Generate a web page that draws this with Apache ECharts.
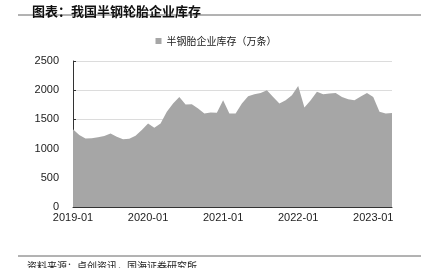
<!DOCTYPE html>
<html><head><meta charset="utf-8">
<script src="https://cdn.jsdelivr.net/npm/echarts@6/dist/echarts.min.js"></script>
<style>html,body{margin:0;padding:0;background:#fff;}#c{width:432px;height:268px;}</style>
</head><body><div id="c"></div>
<script>
const categories = [];
for (let y = 2019; y <= 2023; y++) {
  for (let m = 1; m <= 12; m++) {
    if (y === 2023 && m > 4) break;
    categories.push(y + '-' + String(m).padStart(2, '0'));
  }
}
const seriesName = '半钢胎企业库存（万条）';
const inventory = [
  1330, 1232, 1175, 1178, 1195, 1215, 1258, 1205, 1160, 1170, 1220, 1317,
  1431, 1357, 1431, 1630, 1772, 1885, 1755, 1760, 1687, 1602, 1619, 1613,
  1829, 1602, 1602, 1772, 1897, 1931, 1954, 2000, 1885, 1772, 1830, 1914,
  2070, 1704, 1829, 1975, 1930, 1943, 1950, 1885, 1846, 1829, 1890, 1950,
  1885, 1630, 1602, 1610
];
const yTicks = [0, 500, 1000, 1500, 2000, 2500];

const chart = echarts.init(document.getElementById('c'), null, {renderer: 'canvas'});
chart.setOption({
  backgroundColor: '#fff',
  animation: false,
  title: {
    text: '图表：我国半钢轮胎企业库存',
    left: 27, top: 0,
    textStyle: {fontFamily: 'Noto Sans CJK SC', fontSize: 13, fontWeight: 'bold', color: '#111'}
  },
  graphic: [
    {type: 'line', shape: {x1: 18, y1: 15, x2: 421, y2: 15}, style: {stroke: '#666', lineWidth: 1}},
    {type: 'line', shape: {x1: 18, y1: 256, x2: 421, y2: 256}, style: {stroke: '#666', lineWidth: 1}},
    {type: 'text', left: 27, top: 261, style: {text: '资料来源：卓创资讯，国海证券研究所', font: '10px "Noto Sans CJK SC"', fill: '#222'}}
  ],
  legend: {
    data: [{name: seriesName, icon: 'rect'}],
    top: 31, left: 'center',
    itemWidth: 6, itemHeight: 6, itemGap: 4,
    textStyle: {fontFamily: 'Noto Sans CJK SC', fontSize: 10, color: '#222'}
  },
  grid: {left: 73, right: 40, top: 61, bottom: 61, containLabel: false},
  xAxis: {
    type: 'category',
    data: categories,
    boundaryGap: false,
    axisLine: {lineStyle: {color: '#333', width: 1}},
    axisTick: {inside: true, length: 3, interval: function (i) { return i % 12 === 0; }, lineStyle: {color: '#333'}},
    axisLabel: {interval: function (i) { return i % 12 === 0; }, color: '#222', fontSize: 11, fontFamily: 'Liberation Sans', margin: 5},
    splitLine: {show: false}
  },
  yAxis: {
    type: 'value',
    min: yTicks[0], max: yTicks[yTicks.length - 1], interval: 500,
    axisLine: {show: true, lineStyle: {color: '#333', width: 1}},
    axisTick: {show: true, inside: true, length: 3, lineStyle: {color: '#333'}},
    axisLabel: {color: '#222', fontSize: 11, fontFamily: 'Liberation Sans', margin: 14, formatter: function (v) { return String(v); }},
    splitLine: {show: true, lineStyle: {color: '#dcdcdc', width: 1}}
  },
  series: [{
    name: seriesName,
    type: 'line',
    data: inventory,
    symbol: 'none',
    lineStyle: {width: 0},
    itemStyle: {color: '#a6a6a6'},
    areaStyle: {color: '#a6a6a6', opacity: 1}
  }]
});
</script></body></html>
